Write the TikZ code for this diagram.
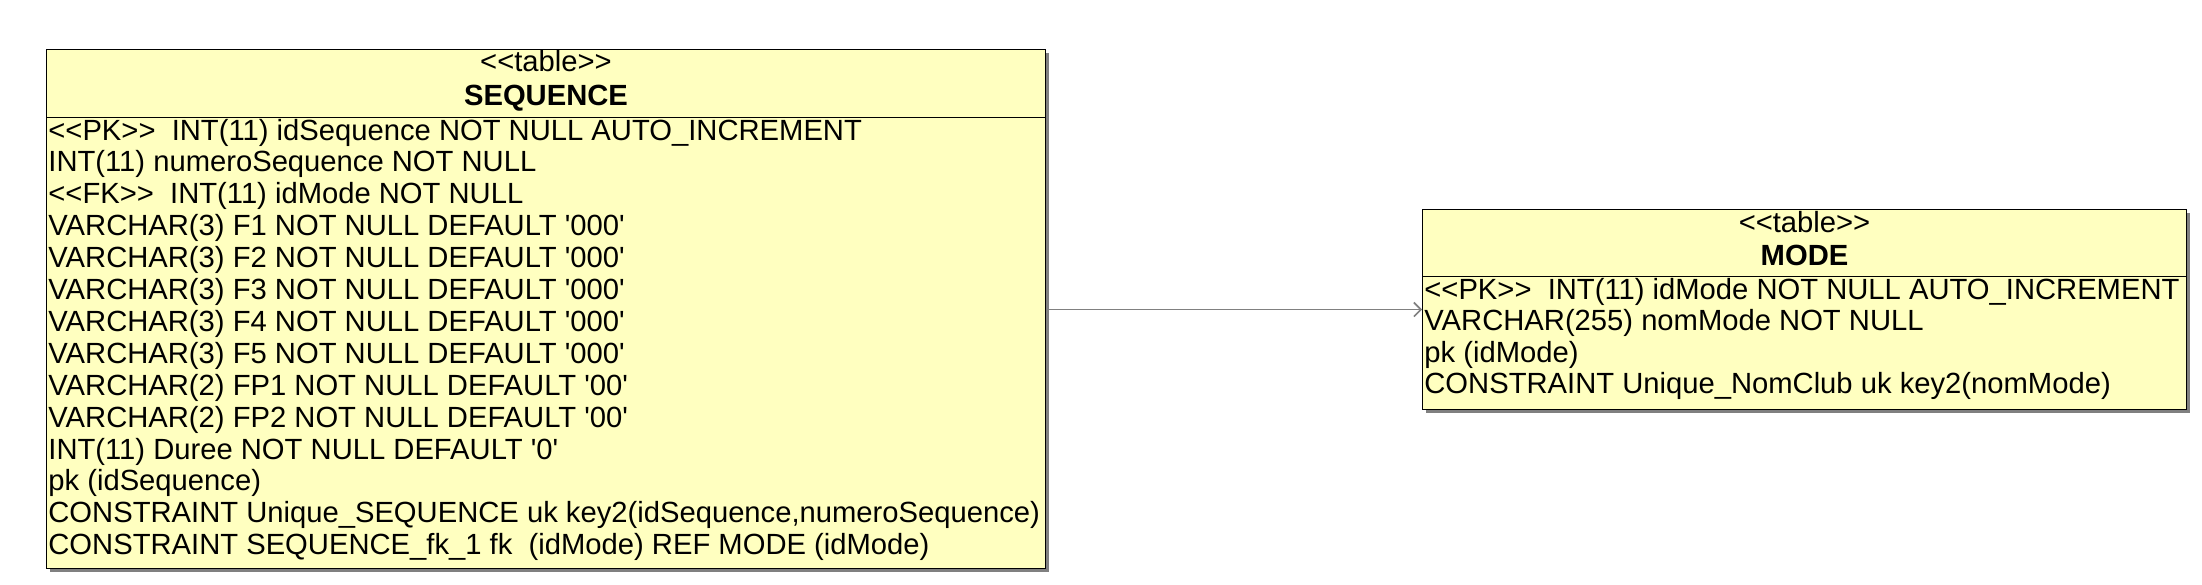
\documentclass[tikz,border=0pt]{standalone}
\usepackage{fontspec}
\newfontfamily\umlfont{Liberation Sans}
\usetikzlibrary{arrows.meta,shadows}
\definecolor{tabfill}{HTML}{FFFFC0}

\begin{document}
\begin{tikzpicture}[x=0.5pt,y=-0.5pt,>={Straight Barb[length=3.5pt,width=7pt]},
    tab/.style={draw=black,line width=0.5pt,fill=tabfill,anchor=north west,inner sep=0pt,
      drop shadow={shadow xshift=1.5pt,shadow yshift=-1.5pt,fill=gray,opacity=1}},
    head/.style={anchor=base,inner sep=0pt,font=\umlfont\fontsize{14.6}{16}\selectfont},
    row/.style={anchor=base west,inner sep=0pt,font=\umlfont\fontsize{14.6}{16}\selectfont}]
  \useasboundingbox (0,0) rectangle (2202,584);
  % table SEQUENCE
  \node[tab,minimum width=499.5pt,minimum height=259.5pt] (seq) at (46,49) {};
  \draw[line width=0.5pt] (seq.west |- 0,117) -- (seq.east |- 0,117);
  \node[head] (seqstereo) at (seq.north |- 0,71) {<<table>>};
  \node[head,font=\umlfont\bfseries\fontsize{14.6}{16}\selectfont] (seqname) at (seq.north |- 0,105.5) {SEQUENCE};
  \foreach \txt [count=\i from 0] in {{<<PK>>\ \ INT(11) idSequence NOT NULL AUTO\_INCREMENT},
      {INT(11) numeroSequence NOT NULL},
      {<<FK>>\ \ INT(11) idMode NOT NULL},
      {VARCHAR(3) F1 NOT NULL DEFAULT '000'},
      {VARCHAR(3) F2 NOT NULL DEFAULT '000'},
      {VARCHAR(3) F3 NOT NULL DEFAULT '000'},
      {VARCHAR(3) F4 NOT NULL DEFAULT '000'},
      {VARCHAR(3) F5 NOT NULL DEFAULT '000'},
      {VARCHAR(2) FP1 NOT NULL DEFAULT '00'},
      {VARCHAR(2) FP2 NOT NULL DEFAULT '00'},
      {INT(11) Duree NOT NULL DEFAULT '0'},
      {pk (idSequence)},
      {CONSTRAINT Unique\_SEQUENCE uk key2(idSequence,numeroSequence)},
      {CONSTRAINT SEQUENCE\_fk\_1 fk\ \ (idMode) REF MODE (idMode)}}
    \node[row] (seqrow\i) at (48,140+31.9*\i) {\txt};
  % table MODE
  \node[tab,minimum width=382pt,minimum height=100pt] (mode) at (1422,209) {};
  \draw[line width=0.5pt] (mode.west |- 0,276) -- (mode.east |- 0,276);
  \node[head] (modestereo) at (mode.north |- 0,232) {<<table>>};
  \node[head,font=\umlfont\bfseries\fontsize{14.6}{16}\selectfont] (modename) at (mode.north |- 0,265) {MODE};
  \foreach \txt [count=\i from 0] in {{<<PK>>\ \ INT(11) idMode NOT NULL AUTO\_INCREMENT},
      {VARCHAR(255) nomMode NOT NULL},
      {pk (idMode)},
      {CONSTRAINT Unique\_NomClub uk key2(nomMode)}}
    \node[row] (moderow\i) at (1424,299+31.6*\i) {\txt};
  \draw[->,gray,line width=0.8pt] (seq.east |- mode.west) -- (mode.west);
\end{tikzpicture}
\end{document}
